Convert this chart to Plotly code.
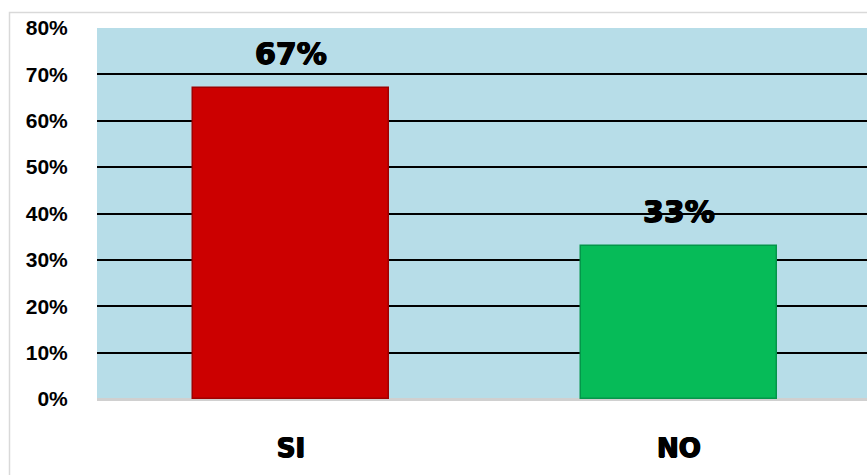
import plotly.graph_objects as go

categories = ["SI", "NO"]
values = [0.67, 0.33]
bar_colors = ["#cc0000", "#06bb58"]
edge_colors = ["#a00000", "#04964a"]
tick_vals = [0, 0.1, 0.2, 0.3, 0.4, 0.5, 0.6, 0.7, 0.8]

W, H = 867, 475
L, T, B = 97, 28, 76
plot_w = W - L
plot_h = H - T - B
cat_w = 388.0

heavy_family = "'DejaVu Sans', sans-serif"
thick = "0.7px 0 0 black, -0.7px 0 0 black, 0 0.5px 0 black"
heavy = dict(family=heavy_family, size=30, color="black", weight="bold", shadow=thick)

fig = go.Figure()
fig.add_trace(go.Bar(
    x=categories, y=values,
    marker=dict(color=bar_colors, line=dict(color=edge_colors, width=1.5)),
    width=0.505,
    hoverinfo="skip",
))

for c, v in zip(categories, values):
    fig.add_annotation(x=c, y=v, text=f"{round(v*100)}%", showarrow=False,
                       yanchor="bottom", yshift=15, font=heavy)

fig.update_layout(
    width=W, height=H,
    margin=dict(l=L, r=0, t=T, b=B, pad=0),
    paper_bgcolor="white",
    plot_bgcolor="#b7dde8",
    showlegend=False,
    bargap=0,
    xaxis=dict(
        range=[-0.5, -0.5 + plot_w / cat_w],
        showgrid=False, zeroline=False,
        showline=True, linecolor="#d0d0d0", linewidth=2,
        tickfont=dict(family=heavy_family, size=26, color="black", weight="bold", shadow=thick),
        ticks="outside", ticklen=25, tickcolor="rgba(0,0,0,0)",
        fixedrange=True,
    ),
    yaxis=dict(
        range=[0, 0.8],
        tickvals=tick_vals, tickformat=".0%",
        showgrid=True, gridcolor="black", gridwidth=2,
        zeroline=True, zerolinecolor="#d0d0d0", zerolinewidth=2,
        tickfont=dict(family="'Liberation Sans', Arial, sans-serif", size=21, color="black", weight="bold"),
        ticks="outside", ticklen=24, tickcolor="rgba(0,0,0,0)",
        fixedrange=True,
    ),
)

# outer chart border
fig.add_shape(type="rect", xref="paper", yref="paper",
              x0=(9.5 - L) / plot_w, x1=1.05,
              y0=-(H + 10 - (T + plot_h)) / plot_h, y1=(T + plot_h - 12.5) / plot_h,
              line=dict(color="#d9d9d9", width=1.5), layer="below")

fig.write_html("out.html", config={"displayModeBar": False},
               post_script="document.body.style.margin='0';document.body.style.overflow='hidden';")
